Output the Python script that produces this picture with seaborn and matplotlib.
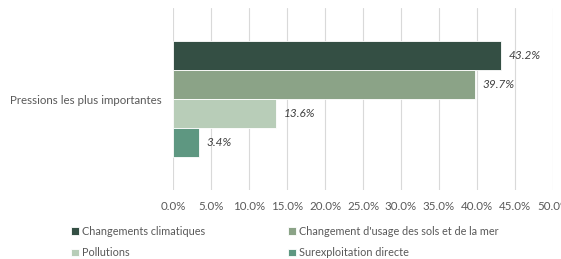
import pandas as pd
import matplotlib.pyplot as plt
import seaborn as sns
from matplotlib.ticker import PercentFormatter

sns.set_style('white')
plt.rcParams['font.family'] = ['Lato', 'DejaVu Sans']

# Data
category = ['Pressions les plus importantes']
pressures = ['Changements climatiques', "Changement d'usage des sols et de la mer",
             'Pollutions', 'Surexploitation directe']
values = [43.2, 39.7, 13.6, 3.4]
colors = ['#2f5445', '#88a882', '#b5d0b5', '#55a083']

df = pd.DataFrame({
    'categorie': category * len(pressures),
    'pression': pressures,
    'valeur': values,
})

fig = plt.figure(figsize=(5.61, 2.59), dpi=100)
ax = fig.add_axes([173 / 561, 1 - 190 / 259, 380 / 561, 182 / 259])

sns.barplot(data=df, y='categorie', x='valeur', hue='pression', hue_order=pressures,
            palette=colors, orient='h', width=0.64, edgecolor='white', linewidth=0.6,
            ax=ax, legend=True)

# Value labels
for bar, v in zip(ax.patches, values):
    ax.text(bar.get_width() + 1.0, bar.get_y() + bar.get_height() / 2, f'{v:.1f}%',
            va='center', ha='left', fontsize=8.5, style='italic', color='#404040')

ax.set_xlim(0, 50)
ax.set_xticks(range(0, 51, 5))
ax.xaxis.set_major_formatter(PercentFormatter(decimals=1))
ax.grid(axis='x', color='#d9d9d9', linewidth=0.8)
ax.set_axisbelow(True)
for s in ax.spines.values():
    s.set_visible(False)
ax.set_xlabel('')
ax.set_ylabel('')
ax.tick_params(axis='both', length=0, labelsize=8.3, labelcolor='#595959')
ax.tick_params(axis='x', pad=8)
ax.tick_params(axis='y', pad=8)

# Legend filled row by row
handles, labels = ax.get_legend_handles_labels()
ax.legend_.remove()
order = [0, 2, 1, 3]
fig.legend([handles[i] for i in order], [labels[i] for i in order],
           loc='upper left', bbox_to_anchor=(71 / 561, 1 - 226 / 259),
           ncol=2, frameon=False, fontsize=7.8, labelcolor='#595959',
           handlelength=0.75, handleheight=0.75, handletextpad=0.3,
           columnspacing=7.6, labelspacing=0.95, borderaxespad=0, borderpad=0)

fig.savefig('out.png', dpi=100)
